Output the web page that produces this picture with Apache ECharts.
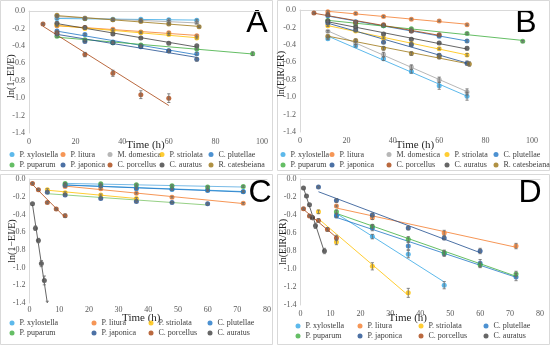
<!DOCTYPE html>
<html><head><meta charset="utf-8">
<script src="https://cdn.jsdelivr.net/npm/echarts@6/dist/echarts.min.js"></script>
<style>html,body{margin:0;padding:0;background:#fff}#c{width:550px;height:345px}</style>
</head><body><div id="c"></div>
<script>
// ---------- categories / colours ----------
const speciesNames = ['P. xylostella','P. litura','M. domestica','P. striolata','C. plutellae','P. puparum','P. japonica','C. porcellus','C. auratus','R. catesbeiana'];
const speciesColors = ['#35a8e6','#f47c2c','#a5a5a5','#ffc000','#1f76c6','#3fae3f','#1f4e8f','#a9440f','#404040','#9c7614'];
const panelLetters = ['A','B','C','D'];
const yNames = ['ln(1\u2212EI/E)','ln(EIR/ER)','ln(1\u2212EI/E)','ln(EIR/ER)'];
const xName = 'Time (h)';

// ---------- Panel A ----------
const hA = [12,24,36,48,60,72];
const hA_puparum = [12,24,36,48,72,96];
const hA_porcellus = [6,12,24,36,48,60];
const hA_catesbeiana = [12,24,36,48,60,73];
const A_xylostella = [-0.085,-0.09,-0.095,-0.095,-0.10,-0.105];
const A_litura = [-0.17,-0.19,-0.21,-0.24,-0.25,-0.285];
const A_domestica = [-0.06,-0.08,-0.10,-0.11,-0.12,-0.135];
const A_striolata = [-0.16,-0.20,-0.23,-0.25,-0.27,-0.31];
const A_plutellae = [-0.23,-0.27,-0.355,-0.40,-0.455,-0.49];
const A_puparum = [-0.29,-0.33,-0.365,-0.39,-0.435,-0.49];
const A_japonica = [-0.26,-0.35,-0.365,-0.41,-0.46,-0.555];
const A_porcellus = [-0.15,-0.25,-0.50,-0.715,-0.96,-1.0];
const A_auratus = [-0.14,-0.19,-0.265,-0.31,-0.37,-0.40];
const A_catesbeiana = [-0.05,-0.085,-0.10,-0.12,-0.15,-0.18];
const A_xylostella_err = [0.01,0.01,0.01,0.01,0.01,0.01];
const A_litura_err = [0.01,0.01,0.01,0.01,0.01,0.01];
const A_domestica_err = [0.01,0.01,0.01,0.01,0.01,0.01];
const A_striolata_err = [0.01,0.01,0.01,0.01,0.01,0.01];
const A_plutellae_err = [0.01,0.01,0.01,0.01,0.015,0.015];
const A_puparum_err = [0.01,0.01,0.01,0.01,0.01,0.02];
const A_japonica_err = [0.01,0.01,0.01,0.01,0.015,0.02];
const A_porcellus_err = [0.01,0.01,0.025,0.035,0.045,0.05];
const A_auratus_err = [0.01,0.01,0.01,0.01,0.01,0.015];
const A_catesbeiana_err = [0.01,0.01,0.01,0.01,0.01,0.01];

// ---------- Panel B ----------
const hB = [12,24,36,48,60,72];
const hB_puparum = [12,24,36,48,72,96];
const hB_porcellus = [6,12,24,36,48,60];
const hB_catesbeiana = [12,24,36,48,60,73];
const B_xylostella = [-0.33,-0.41,-0.56,-0.705,-0.87,-0.99];
const B_litura = [-0.02,-0.04,-0.075,-0.105,-0.125,-0.17];
const B_domestica = [-0.245,-0.38,-0.51,-0.655,-0.80,-0.94];
const B_striolata = [-0.18,-0.24,-0.32,-0.385,-0.445,-0.515];
const B_plutellae = [-0.065,-0.135,-0.18,-0.24,-0.30,-0.355];
const B_puparum = [-0.12,-0.16,-0.18,-0.215,-0.27,-0.36];
const B_japonica = [-0.15,-0.23,-0.37,-0.40,-0.52,-0.61];
const B_porcellus = [-0.035,-0.055,-0.14,-0.17,-0.24,-0.285];
const B_auratus = [-0.125,-0.195,-0.275,-0.335,-0.38,-0.44];
const B_catesbeiana = [-0.30,-0.35,-0.44,-0.50,-0.54,-0.62];
const B_xylostella_err = [0.01,0.015,0.02,0.02,0.04,0.045];
const B_litura_err = [0.01,0.01,0.01,0.01,0.01,0.01];
const B_domestica_err = [0.01,0.02,0.025,0.025,0.03,0.035];
const B_striolata_err = [0.01,0.01,0.01,0.01,0.01,0.015];
const B_plutellae_err = [0.01,0.01,0.01,0.01,0.01,0.015];
const B_puparum_err = [0.01,0.01,0.01,0.01,0.01,0.01];
const B_japonica_err = [0.01,0.01,0.015,0.015,0.02,0.025];
const B_porcellus_err = [0.01,0.01,0.01,0.01,0.015,0.015];
const B_auratus_err = [0.01,0.01,0.015,0.015,0.015,0.02];
const B_catesbeiana_err = [0.01,0.015,0.02,0.02,0.02,0.025];

// ---------- Panel C ----------
const hC = [12,24,36,48,60,72];
const hC_litura = [12,24,36,48,72];
const hC_striolata = [6,12,24,36];
const hC_japonica = [6,12,24,36,48,60];
const hC_porcellus = [1,3,6,9,12];
const hC_auratus = [1,2,3,4,5,6];
const C_xylostella = [-0.065,-0.08,-0.10,-0.115,-0.125,-0.14];
const C_litura = [-0.085,-0.11,-0.16,-0.205,-0.275];
const C_striolata = [-0.12,-0.155,-0.18,-0.22];
const C_plutellae = [-0.07,-0.075,-0.11,-0.115,-0.13,-0.145];
const C_puparum = [-0.05,-0.055,-0.065,-0.075,-0.09,-0.085];
const C_japonica = [-0.15,-0.18,-0.22,-0.255,-0.265,-0.28];
const C_porcellus = [-0.05,-0.12,-0.265,-0.34,-0.415];
const C_auratus = [-0.28,-0.555,-0.695,-0.955,-1.145,-1.43];
const C_xylostella_err = [0.01,0.01,0.01,0.01,0.01,0.01];
const C_litura_err = [0.01,0.01,0.01,0.01,0.01];
const C_striolata_err = [0.01,0.01,0.01,0.01];
const C_plutellae_err = [0.01,0.01,0.01,0.01,0.01,0.01];
const C_puparum_err = [0.01,0.01,0.01,0.01,0.01,0.01];
const C_japonica_err = [0.01,0.01,0.01,0.01,0.01,0.01];
const C_porcellus_err = [0.01,0.01,0.01,0.01,0.02];
const C_auratus_err = [0.01,0.025,0.025,0.035,0.05,0.05];

// ---------- Panel D ----------
const hD_xylostella = [12,24,36,48];
const hD_litura = [12,24,48,72];
const hD_striolata = [6,12,24,36];
const hD = [12,24,36,48,60,72];
const hD_japonica = [6,12,24,36,48,60];
const hD_porcellus = [1,3,4,6,9,12];
const hD_auratus = [1,2,3,4,5,8];
const D_xylostella = [-0.40,-0.64,-0.835,-1.18];
const D_litura = [-0.30,-0.43,-0.60,-0.745];
const D_striolata = [-0.365,-0.70,-0.97,-1.265];
const D_plutellae = [-0.41,-0.545,-0.745,-0.83,-0.935,-1.09];
const D_puparum = [-0.365,-0.525,-0.67,-0.82,-0.955,-1.055];
const D_japonica = [-0.09,-0.24,-0.40,-0.545,-0.655,-0.80];
const D_porcellus = [-0.33,-0.41,-0.43,-0.46,-0.56,-0.655];
const D_auratus = [-0.10,-0.19,-0.285,-0.43,-0.52,-0.80];
const D_xylostella_err = [0.02,0.025,0.04,0.04];
const D_litura_err = [0.01,0.02,0.03,0.03];
const D_striolata_err = [0.02,0.03,0.04,0.05];
const D_plutellae_err = [0.02,0.03,0.04,0.03,0.04,0.04];
const D_puparum_err = [0.02,0.02,0.03,0.03,0.03,0.03];
const D_japonica_err = [0.01,0.02,0.02,0.02,0.02,0.03];
const D_porcellus_err = [0.01,0.01,0.02,0.02,0.02,0.03];
const D_auratus_err = [0.01,0.01,0.01,0.02,0.03,0.03];

// ---------- assemble ----------
const panelSeries = [
  [['P. xylostella',hA,A_xylostella,A_xylostella_err],['P. litura',hA,A_litura,A_litura_err],['M. domestica',hA,A_domestica,A_domestica_err],['P. striolata',hA,A_striolata,A_striolata_err],['C. plutellae',hA,A_plutellae,A_plutellae_err],['P. puparum',hA_puparum,A_puparum,A_puparum_err],['P. japonica',hA,A_japonica,A_japonica_err],['C. porcellus',hA_porcellus,A_porcellus,A_porcellus_err],['C. auratus',hA,A_auratus,A_auratus_err],['R. catesbeiana',hA_catesbeiana,A_catesbeiana,A_catesbeiana_err]],
  [['P. xylostella',hB,B_xylostella,B_xylostella_err],['P. litura',hB,B_litura,B_litura_err],['M. domestica',hB,B_domestica,B_domestica_err],['P. striolata',hB,B_striolata,B_striolata_err],['C. plutellae',hB,B_plutellae,B_plutellae_err],['P. puparum',hB_puparum,B_puparum,B_puparum_err],['P. japonica',hB,B_japonica,B_japonica_err],['C. porcellus',hB_porcellus,B_porcellus,B_porcellus_err],['C. auratus',hB,B_auratus,B_auratus_err],['R. catesbeiana',hB_catesbeiana,B_catesbeiana,B_catesbeiana_err]],
  [['P. xylostella',hC,C_xylostella,C_xylostella_err],['P. litura',hC_litura,C_litura,C_litura_err],['P. striolata',hC_striolata,C_striolata,C_striolata_err],['C. plutellae',hC,C_plutellae,C_plutellae_err],['P. puparum',hC,C_puparum,C_puparum_err,'#56a9e0'],['P. japonica',hC_japonica,C_japonica,C_japonica_err,'#7cc466'],['C. porcellus',hC_porcellus,C_porcellus,C_porcellus_err],['C. auratus',hC_auratus,C_auratus,C_auratus_err]],
  [['P. xylostella',hD_xylostella,D_xylostella,D_xylostella_err],['P. litura',hD_litura,D_litura,D_litura_err],['P. striolata',hD_striolata,D_striolata,D_striolata_err],['C. plutellae',hD,D_plutellae,D_plutellae_err],['P. puparum',hD,D_puparum,D_puparum_err],['P. japonica',hD_japonica,D_japonica,D_japonica_err],['C. porcellus',hD_porcellus,D_porcellus,D_porcellus_err],['C. auratus',hD_auratus,D_auratus,D_auratus_err]]
];
const legendRowsAB = [['P. xylostella','P. litura','M. domestica','P. striolata','C. plutellae'],['P. puparum','P. japonica','C. porcellus','C. auratus','R. catesbeiana']];
const legendRowsCD = [['P. xylostella','P. litura','P. striolata','C. plutellae'],['P. puparum','P. japonica','C. porcellus','C. auratus']];

// ---------- layout ----------
const SERIF = 'Liberation Serif';
const grids = [
  {left:29, top:11, width:233, height:122},
  {left:300, top:10, width:232, height:122},
  {left:29.5, top:179, width:237.5, height:124},
  {left:300.5, top:179, width:239.5, height:126}
];
const xMax = [100,100,80,80];
const xInt = [20,20,10,10];
const xLabelMargin = [4.5,4.7,2.5,4.7];
const xNameGap = [7,8,10,8];
const xNamePad = [[0,0,0,0],[0,2,0,0],[0,14,0,0],[0,25,0,0]];
const yNameGap = [13,14,12,12];
const yNamePad = [[0,8,0,0],[0,6,0,0],[0,0,0,0],[0,0,0,0]];
const legendCols = [[12,63,110,162,211],[283,332,389,447,496],[12,94,151,210],[298,360,421,486]];
const legendTop = [149.5,149.5,318,321];
const legendGap = [0.5,0.5,0,0];
const letterPos = [[257,23],[526,23],[260,193],[530,193]];
const frames = [[0.5,0.5,272,170],[277.5,0.5,272,170],[0.5,174.5,272,170],[277.5,174.5,272,170]];

function colorOf(n){ return speciesColors[speciesNames.indexOf(n)]; }
function fit(xs, ys){
  const n = xs.length; let mx=0,my=0;
  for(let i=0;i<n;i++){mx+=xs[i];my+=ys[i];}
  mx/=n; my/=n; let sxx=0,sxy=0;
  for(let i=0;i<n;i++){sxx+=(xs[i]-mx)*(xs[i]-mx); sxy+=(xs[i]-mx)*(ys[i]-my);}
  const b=sxy/sxx, a=my-b*mx; const x0=Math.min(...xs), x1=Math.max(...xs);
  return [[x0,a+b*x0],[x1,a+b*x1]];
}
function errRender(params, api){
  const x=api.value(0), lo=api.value(1), hi=api.value(2);
  const p1=api.coord([x,hi]), p2=api.coord([x,lo]);
  const c=1.6, st={stroke:'#6b6b6b', lineWidth:0.8};
  return {type:'group', children:[
    {type:'line', shape:{x1:p1[0],y1:p1[1],x2:p2[0],y2:p2[1]}, style:st},
    {type:'line', shape:{x1:p1[0]-c,y1:p1[1],x2:p1[0]+c,y2:p1[1]}, style:st},
    {type:'line', shape:{x1:p2[0]-c,y1:p2[1],x2:p2[0]+c,y2:p2[1]}, style:st}
  ]};
}

const option = {animation:false, backgroundColor:'#fff', grid:[], xAxis:[], yAxis:[], series:[], legend:[], graphic:[]};
for(let p=0;p<4;p++){
  option.grid.push(Object.assign({outerBoundsMode:'none', containLabel:false}, grids[p]));
  option.xAxis.push({type:'value', gridIndex:p, min:0, max:xMax[p], interval:xInt[p], position:'bottom',
    axisLine:{show:false, onZero:false}, axisTick:{show:false}, splitLine:{show:false},
    axisLabel:{fontSize:8, fontFamily:SERIF, color:'#595959', margin:xLabelMargin[p]},
    name:xName, nameLocation:'middle', nameGap:xNameGap[p], nameMoveOverlap:false, nameTextStyle:{fontSize:11, fontFamily:SERIF, color:'#262626', padding:xNamePad[p]}});
  option.xAxis.push({type:'value', gridIndex:p, min:0, max:xMax[p], position:'top',
    axisLine:{show:true, onZero:false, lineStyle:{color:'#d9d9d9', width:1}}, axisTick:{show:false}, axisLabel:{show:false}, splitLine:{show:false}});
  option.yAxis.push({type:'value', gridIndex:p, min:-1.4, max:0, interval:0.2,
    axisLine:{show:true, lineStyle:{color:'#d9d9d9', width:1}}, axisTick:{show:false}, splitLine:{show:false},
    axisLabel:{fontSize:8, fontFamily:SERIF, color:'#595959', margin:4, formatter:v=>v.toFixed(1)},
    name:yNames[p], nameLocation:'middle', nameGap:yNameGap[p], nameMoveOverlap:false, nameRotate:90, nameTextStyle:{fontSize:10, fontFamily:SERIF, color:'#262626', padding:yNamePad[p]}});
  const errData = [];
  panelSeries[p].forEach(s=>{
    const [name, xs, ys, es, trendColor] = s; const col = colorOf(name);
    option.series.push({type:'line', name:name+' trend', xAxisIndex:p*2, yAxisIndex:p, data:fit(xs,ys), symbol:'none', silent:true, clip:true,
      lineStyle:{width:1, color:trendColor||col, opacity:0.8}, z:2});
    xs.forEach((x,i)=>errData.push([x, ys[i]-es[i], ys[i]+es[i]]));
    option.series.push({type:'scatter', name:name, xAxisIndex:p*2, yAxisIndex:p, data:xs.map((x,i)=>[x,ys[i]]), symbol:'circle', symbolSize:5, clip:true,
      itemStyle:{color:col}, z:4});
  });
  option.series.push({type:'custom', xAxisIndex:p*2, yAxisIndex:p, data:errData, renderItem:errRender, clip:true, silent:true, z:5, encode:{x:0, y:[1,2]}});
  const rows = p<2 ? legendRowsAB : legendRowsCD;
  legendCols[p].forEach((cx,ci)=>{
    option.legend.push({orient:'vertical', left:cx-2.5, top:legendTop[p], padding:0, itemGap:legendGap[p], itemWidth:5, itemHeight:5, icon:'circle', selectedMode:false,
      textStyle:{fontSize:8, fontFamily:SERIF, color:'#404040', lineHeight:10}, data:[rows[0][ci], rows[1][ci]]});
  });
  const f = frames[p];
  option.graphic.push({type:'rect', shape:{x:f[0], y:f[1], width:f[2], height:f[3]}, style:{fill:'none', stroke:'#d9d9d9', lineWidth:1}, silent:true, z:-1});
  option.graphic.push({type:'text', x:letterPos[p][0], y:letterPos[p][1], style:{text:panelLetters[p], fontSize:32, fontFamily:'Liberation Sans', fill:'#000', align:'center', verticalAlign:'middle'}, silent:true});
}
const chart = echarts.init(document.getElementById('c'), null, {renderer:'canvas'});
chart.setOption(option);
</script></body></html>
